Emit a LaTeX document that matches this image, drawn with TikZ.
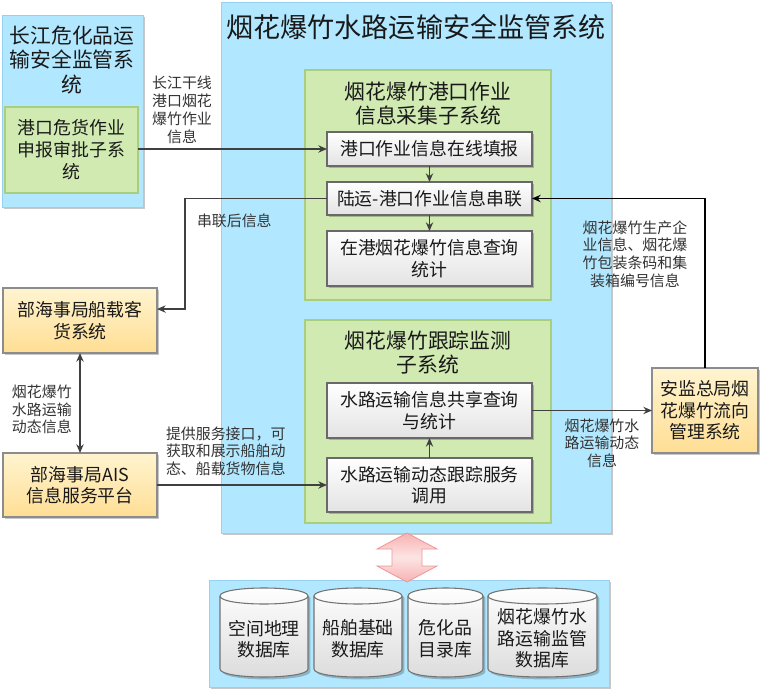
\documentclass[tikz,border=0pt]{standalone}
\usepackage{fontspec}
\setmainfont{Noto Sans CJK SC}
\usetikzlibrary{shadows,arrows.meta}
\definecolor{bluebg}{RGB}{178,232,255}
\definecolor{blueln}{RGB}{150,210,240}
\definecolor{greenbg}{RGB}{208,234,178}
\definecolor{greenln}{RGB}{168,206,126}
\definecolor{boxln}{RGB}{105,105,105}
\definecolor{orgtop}{RGB}{255,244,208}
\definecolor{orgbot}{RGB}{255,222,148}
\definecolor{arrowc}{RGB}{64,64,64}
\definecolor{pinkf}{RGB}{248,178,178}
\definecolor{pinkl}{RGB}{238,150,150}
\definecolor{txt}{RGB}{25,25,25}
\tikzset{
  wh/.style 2 args={minimum width=#1*0.75pt, minimum height=#2*0.75pt},
  base/.style={inner sep=0pt, outer sep=0pt, align=center, text=txt},
  shd/.style={drop shadow={shadow xshift=1.8pt, shadow yshift=-1.8pt, fill=black, opacity=0.22}},
  bluebox/.style={base, fill=bluebg, draw=blueln, line width=0.6pt, shd},
  greenbox/.style={base, fill=greenbg, draw=greenln, line width=0.8pt},
  itembox/.style={base, top color=white, bottom color=black!11, draw=boxln, line width=0.8pt, shd},
  orgbox/.style={base, top color=orgtop, bottom color=orgbot, draw=black!45, line width=0.8pt, shd},
  dbfill/.style={top color=white, bottom color=black!14, draw=black!55, line width=0.8pt, shd},
  ftmain/.style={font=\fontsize{20.3}{24}\selectfont},
  fthead/.style={font=\fontsize{15.6}{18}\selectfont},
  ftbox/.style={font=\fontsize{13.4}{16}\selectfont},
  ftlbl/.style={font=\fontsize{11.2}{13.2}\selectfont},
  lbl/.style={base, ftlbl, text=black!80},
  conn/.style={draw=arrowc, line width=1pt, -{Stealth[length=6.5pt,width=5.5pt]}},
  pinkarrow/.style={top color=pinkf, bottom color=pinkf, middle color=pinkf!35!white, draw=pinkl, line width=0.6pt}
}
\newcommand{\dbcyl}[5]{%
  \path[dbfill] ({#2},596) -- ({#2},669) .. controls ({#2},679.67) and ({#3},679.67) .. ({#3},669)
     -- ({#3},596) .. controls ({#3},585.33) and ({#2},585.33) .. cycle;
  \draw[draw=black!55, line width=0.8pt] ({#2},596) .. controls ({#2},606.67) and ({#3},606.67) .. ({#3},596);
  \node[base, ftbox, font=\fontsize{13.4}{16.2}\selectfont] (#1) at ({(#2+#3)/2},#4) {#5};
}
\begin{document}
\begin{tikzpicture}[x=0.75pt,y=-0.75pt]
\useasboundingbox (0,0) rectangle (762,691);
% containers
\node[bluebox, wh={390}{531}] (M) at (416,267.5) {};
\node[base, ftmain] (Mt) at (416,27) {烟花爆竹水路运输安全监管系统};
\node[bluebox, wh={141}{192}] (L) at (72.5,111) {};
\node[base, fthead, font=\fontsize{15.6}{18.6}\selectfont] (Lt) at (72,60) {长江危化品运\\输安全监管系\\统};
\node[greenbox, ftbox, wh={133}{86}, font=\fontsize{13.4}{16.5}\selectfont] (G0) at (71.5,150) {港口危货作业\\申报审批子系\\统};
\node[bluebox, wh={400}{107}] (DB) at (409,633.5) {};
% subsystem 1
\node[greenbox, wh={246}{230}] (S1) at (428,185) {};
\node[base, fthead] (S1t) at (428,103.5) {烟花爆竹港口作业\\信息采集子系统};
\node[itembox, ftbox, wh={205}{34}] (A) at (429.5,149) {港口作业信息在线填报};
\node[itembox, ftbox, wh={205}{33}] (B) at (429.5,198.5) {陆运-港口作业信息串联};
\node[itembox, ftbox, wh={205}{55}] (C) at (429.5,258.5) {在港烟花爆竹信息查询\\统计};
% subsystem 2
\node[greenbox, wh={246}{203}] (S2) at (428,421.5) {};
\node[base, fthead] (S2t) at (428,352.5) {烟花爆竹跟踪监测\\子系统};
\node[itembox, ftbox, wh={205}{55}] (D) at (429.5,410.5) {水路运输信息共享查询\\与统计};
\node[itembox, ftbox, wh={205}{54}] (E) at (429.5,485) {水路运输动态跟踪服务\\调用};
% outside systems
\node[orgbox, ftbox, wh={154}{65}] (O1) at (80,320.5) {部海事局船载客\\货系统};
\node[orgbox, ftbox, wh={154}{64}] (O2) at (80,485) {部海事局AIS\\信息服务平台};
\node[orgbox, ftbox, wh={106}{85}] (R) at (705,410.5) {安监总局烟\\花爆竹流向\\管理系统};
% databases
\dbcyl{db1}{220}{308}{639}{空间地理\\数据库}
\dbcyl{db2}{314}{402}{639}{船舶基础\\数据库}
\dbcyl{db3}{408}{483}{639}{危化品\\目录库}
\dbcyl{db4}{488}{597}{638.5}{烟花爆竹水\\路运输监管\\数据库}
% pink double arrow
\path[pinkarrow] (407,533) -- (437,549) -- (422,549) -- (422,566) -- (437,566) -- (407,582)
   -- (377,566) -- (392,566) -- (392,549) -- (377,549) -- cycle;
% connectors
\draw[conn] (G0.east |- A.west) -- (A.west);
\node[lbl, font=\fontsize{11.2}{13.4}\selectfont] (l1) at (182,110) {长江干线\\港口烟花\\爆竹作业\\信息};
\draw[conn] (A.south) -- (B.north);
\draw[conn] (B.south) -- (C.north);
\draw[conn] (B.west) -- ++(-142,0) |- ([yshift=8.6pt]O1.east);
\node[lbl, anchor=west] (l2) at (197,221) {串联后信息};
\draw[draw=arrowc, line width=1pt, {Stealth[length=6.5pt,width=5.5pt]}-{Stealth[length=6.5pt,width=5.5pt]}] (O1.south) -- (O2.north);
\node[lbl, align=left, anchor=west] (l3) at (12,409.5) {烟花爆竹\\水路运输\\动态信息};
\draw[conn] (O2.east) -- (E.west);
\node[lbl, align=left, anchor=west] (l4) at (166,451) {提供服务接口，可\\获取和展示船舶动\\态、船载货物信息};
\draw[conn] (E.north) -- (D.south);
\draw[conn] (D.east) -- (R.west);
\node[lbl] (l5) at (602,443) {烟花爆竹水\\路运输动态\\信息};
\draw[conn, draw=black] (R.north) -- (R.north |- B.east) -- (B.east);
\node[lbl] (l6) at (635,254) {烟花爆竹生产企\\业信息、烟花爆\\竹包装条码和集\\装箱编号信息};
\end{tikzpicture}
\end{document}
